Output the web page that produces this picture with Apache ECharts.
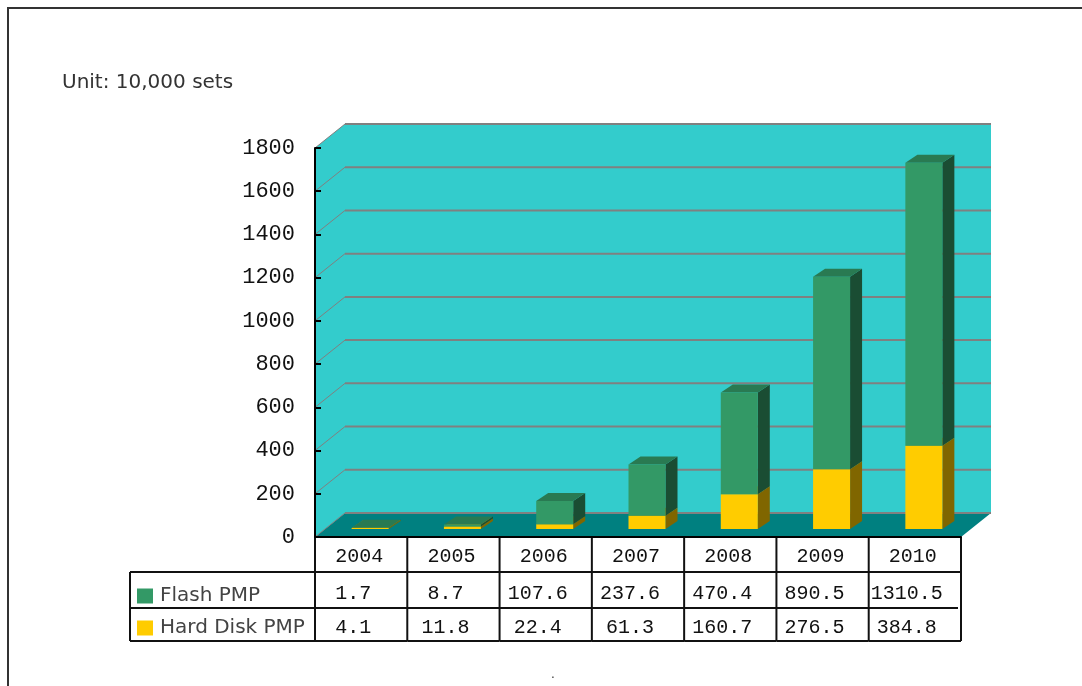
<!DOCTYPE html>
<html>
<head>
<meta charset="utf-8">
<title>PMP shipments</title>
<style>
  html, body { margin: 0; padding: 0; background: #fff; overflow: hidden; }
  #chart { width: 1082px; height: 686px; }
</style>
<script src="https://cdn.jsdelivr.net/npm/echarts@6/dist/echarts.min.js"></script>
</head>
<body>
<div id="chart"></div>
<script>
  // values
  var years = ['2004', '2005', '2006', '2007', '2008', '2009', '2010']
  var flashPmp = [1.7, 8.7, 107.6, 237.6, 470.4, 890.5, 1310.5]
  var hardDiskPmp = [4.1, 11.8, 22.4, 61.3, 160.7, 276.5, 384.8]
  var flashLabels = ['1.7', '8.7', '107.6', '237.6', '470.4', '890.5', '1310.5']
  var hardDiskLabels = ['4.1', '11.8', '22.4', '61.3', '160.7', '276.5', '384.8']
  var gridValues = [200, 400, 600, 800, 1000, 1200, 1400, 1600, 1800]

  var monoFont = '"Liberation Mono", monospace'
  var sansFont = '"DejaVu Sans", sans-serif'

  // 3d look of the old chart
  var wallDx = 30
  var wallDy = 24
  var barShift = [9, -8]
  var barWidth = 37
  var barDx = 12
  var barDy = 8

  // table rows, below the x axis
  var tableLeft = 130
  var rowTops = [35, 71, 104]
  var rowEnd = 104
  var rowText = [57, 91]

  function poly(points, color, stroke) {
    return {
      type: 'polygon',
      shape: { points: points },
      style: { fill: color, stroke: stroke || null, lineWidth: stroke ? 1 : 0 }
    }
  }

  function line(x1, y1, x2, y2, color, width) {
    return {
      type: 'line',
      shape: { x1: x1, y1: y1, x2: x2, y2: y2 },
      style: { stroke: color, lineWidth: width }
    }
  }

  function renderWall(params, api) {
    var c = params.coordSys
    var l = c.x, r = c.x + c.width, t = c.y, b = c.y + c.height
    var items = [
      poly([[l, t], [l + wallDx, t - wallDy], [r + wallDx, t - wallDy], [r + wallDx, b - wallDy], [l + wallDx, b - wallDy], [l, b]], '#33cccc'),
      poly([[l, b], [l + wallDx, b - wallDy], [r + wallDx, b - wallDy], [r, b]], '#008080'),
      line(l, b, l + wallDx, b - wallDy, '#808080', 1),
      line(l + wallDx, b - wallDy, r + wallDx, b - wallDy, '#808080', 2)
    ]
    gridValues.forEach(function (v) {
      var y = api.coord([0, v])[1]
      items.push(line(l, y, l + wallDx, y - wallDy, '#808080', 1))
      items.push(line(l + wallDx, y - wallDy, r + wallDx, y - wallDy, '#808080', 2))
    })
    return { type: 'group', children: items }
  }

  function renderBar(colors) {
    return function (params, api) {
      var idx = api.value(0)
      var x0 = api.coord([idx, 0])[0] + barShift[0] - barWidth / 2
      var x1 = x0 + barWidth
      var y0 = api.coord([idx, api.value(1)])[1] + barShift[1]
      var y1 = api.coord([idx, api.value(2)])[1] + barShift[1]
      return {
        type: 'group',
        children: [
          poly([[x1, y0], [x1 + barDx, y0 - barDy], [x1 + barDx, y1 - barDy], [x1, y1]], colors.side),
          poly([[x0, y1], [x0 + barDx, y1 - barDy], [x1 + barDx, y1 - barDy], [x1, y1]], colors.top),
          poly([[x0, y0], [x0, y1], [x1, y1], [x1, y0]], colors.front)
        ]
      }
    }
  }

  function renderTable(params, api) {
    var idx = api.value(0)
    var c = params.coordSys
    var band = api.size([1, 0])[0]
    var center = api.coord([idx, 0])[0]
    var l = center - band / 2
    var r = center + band / 2
    var b = c.y + c.height
    var items = [line(r, b, r, b + rowEnd, '#111', 2)]
    if (idx === 0) {
      items.push(line(l, b, l, b + rowEnd, '#111', 2))
      items.push(line(tableLeft, b + rowTops[0], tableLeft, b + rowEnd, '#111', 2))
      rowTops.forEach(function (rowTop) {
        items.push(line(tableLeft, b + rowTop, l, b + rowTop, '#111', 2))
      })
    }
    var inset = idx === years.length - 1 ? 3 : 0
    items.push(line(l, b, r, b, '#111', 2))
    items.push(line(l, b + rowTops[0], r, b + rowTops[0], '#111', 2))
    items.push(line(l, b + rowTops[1], r - inset, b + rowTops[1], '#111', 2))
    items.push(line(l, b + rowTops[2], r, b + rowTops[2], '#111', 2))
    ;[flashLabels, hardDiskLabels].forEach(function (labels, row) {
      items.push({
        type: 'text',
        style: {
          text: labels[idx],
          x: center - 8,
          y: b + rowText[row],
          align: 'center',
          verticalAlign: 'middle',
          fill: '#111',
          font: '20px ' + monoFont
        }
      })
    })
    return { type: 'group', children: items }
  }

  var indexes = years.map(function (y, i) { return i })

  var chart = echarts.init(document.getElementById('chart'))
  chart.setOption({
    animation: false,
    backgroundColor: '#fff',
    graphic: [
      {
        type: 'rect',
        silent: true,
        shape: { x: 8, y: 8, width: 1200, height: 800 },
        style: { fill: null, stroke: '#333', lineWidth: 2 }
      },
      {
        type: 'text',
        silent: true,
        style: { text: 'Unit: 10,000 sets', x: 62, y: 83, verticalAlign: 'middle', fill: '#333', font: '20px ' + sansFont }
      },
      {
        type: 'text',
        silent: true,
        style: { text: '.', x: 551, y: 675, verticalAlign: 'middle', fill: '#333', font: '12px ' + sansFont }
      }
    ],
    grid: { left: 315, right: 121, top: 148, bottom: 149 },
    legend: {
      orient: 'vertical',
      left: 132,
      top: 581,
      icon: 'rect',
      itemWidth: 16,
      itemHeight: 15,
      itemGap: 12,
      selectedMode: false,
      data: ['Flash PMP', 'Hard Disk PMP'],
      textStyle: { fontFamily: sansFont, fontSize: 20, lineHeight: 20, color: '#444', padding: [0, 0, 0, 2] }
    },
    xAxis: {
      type: 'category',
      data: years,
      z: 10,
      axisLine: { lineStyle: { color: '#000', width: 2 } },
      axisTick: { show: false },
      axisLabel: { margin: 10, color: '#111', fontFamily: monoFont, fontSize: 20, padding: [0, 4, 0, 0] }
    },
    yAxis: {
      type: 'value',
      min: 0,
      max: 1800,
      interval: 200,
      z: 10,
      splitLine: { show: false },
      axisLine: { show: true, lineStyle: { color: '#000', width: 2 } },
      axisTick: { show: true, inside: true, length: 6, lineStyle: { color: '#000', width: 2 } },
      axisLabel: {
        margin: 20,
        color: '#111',
        fontFamily: monoFont,
        fontSize: 22,
        formatter: function (value) { return String(value) }
      }
    },
    series: [
      { type: 'custom', name: 'wall', z: 1, silent: true, data: [[0]], renderItem: renderWall },
      {
        type: 'custom',
        name: 'Hard Disk PMP',
        z: 3,
        itemStyle: { color: '#ffcc00' },
        data: indexes.map(function (i) { return [i, 0, hardDiskPmp[i]] }),
        renderItem: renderBar({ front: '#ffcc00', side: '#806600', top: '#b28f00' })
      },
      {
        type: 'custom',
        name: 'Flash PMP',
        z: 4,
        itemStyle: { color: '#339966' },
        data: indexes.map(function (i) { return [i, hardDiskPmp[i], hardDiskPmp[i] + flashPmp[i]] }),
        renderItem: renderBar({ front: '#339966', side: '#1a4d33', top: '#297a52' })
      },
      { type: 'custom', name: 'table', z: 5, silent: true, data: indexes.map(function (i) { return [i] }), renderItem: renderTable }
    ]
  })
</script>
</body>
</html>
